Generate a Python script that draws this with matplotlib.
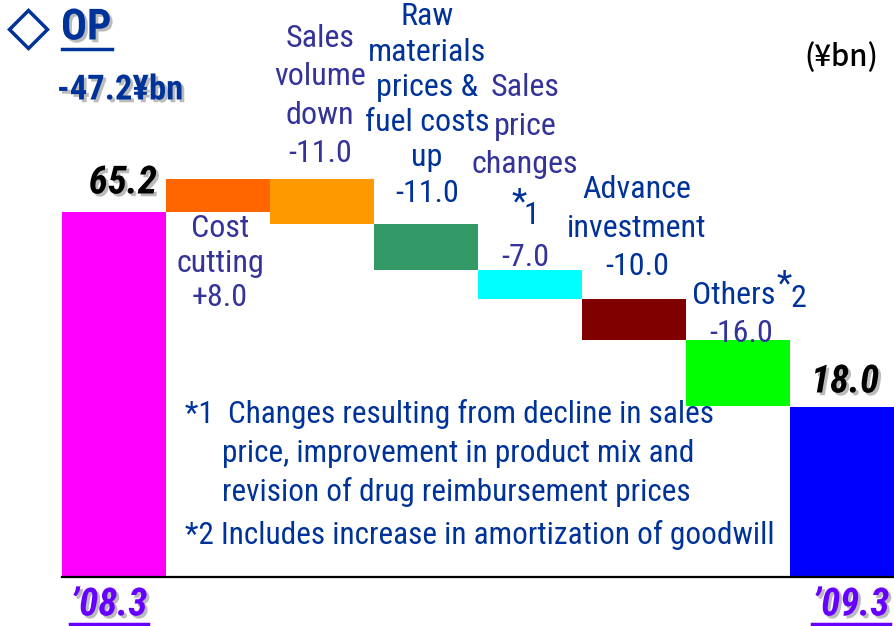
import numpy as np
import matplotlib
matplotlib.use("Agg")
import matplotlib.pyplot as plt
import matplotlib.patheffects as pe
from matplotlib.lines import Line2D
from matplotlib import font_manager

# values (yen bn)
op_start = 65.2
op_end = 18.0
period_labels = ["\u201908.3", "\u201909.3"]
step_names = ["Cost\ncutting", "Sales\nvolume\ndown", "Raw\nmaterials\nprices &\nfuel costs\nup",
              "Sales\nprice\nchanges", "Advance\ninvestment", "Others"]
step_values = [8.0, -11.0, -11.0, -7.0, -10.0, -16.0]
total_change = -47.2

bar_colors = ["#ff00ff", "#ff6600", "#ff9900", "#339966", "#00ffff",
              "#800000", "#00ff00", "#0000ff"]


# pick a narrow font if one is installed
def pick_font(cands):
    for c in cands:
        try:
            font_manager.findfont(font_manager.FontProperties(family=c), fallback_to_default=False)
            return c
        except Exception:
            pass
    return "DejaVu Sans"


narrow = pick_font(["Liberation Sans Narrow", "DejaVu Sans Condensed", "Roboto Condensed",
                    "Open Sans Condensed", "Liberation Sans"])
is_narrow = narrow != "Liberation Sans"
plt.rcParams['font.family'] = [narrow, 'DejaVu Sans']
k = 1.0 if is_narrow else 0.85

W, H = 894, 626
fig = plt.figure(figsize=(W / 100, H / 100), dpi=100)


def fx(x):
    return x / W


def fy(y):
    return 1 - y / H


# axes: bars are contiguous, baseline at pixel 577
ax = fig.add_axes([fx(62), fy(577), (W - 62) / W, 577 / H])
px_per_unit = 4.13
ymin = op_start - (577 - 212) / px_per_unit
ymax = ymin + 577 / px_per_unit
ax.set_ylim(ymin, ymax)
ax.set_xlim(-0.5, 7.5)

# waterfall
levels = np.concatenate([[op_start], op_start + np.cumsum(step_values)])
bottoms = [ymin] + list(np.minimum(levels[:-1], levels[1:])) + [ymin]
heights = [op_start - ymin] + [abs(v) for v in step_values] + [op_end - ymin]
ax.bar(np.arange(8), heights, bottom=bottoms, width=1.0, color=bar_colors,
       linewidth=0)

for s in ["top", "right", "left"]:
    ax.spines[s].set_visible(False)
ax.spines["bottom"].set_linewidth(1.6)
ax.set_xticks([])
ax.set_yticks([])
ax.patch.set_alpha(0)

navy = "#333399"
blue = "#003399"
shadow = [pe.SimplePatchShadow(offset=(2, -2), shadow_rgbFace="#aaaaaa", alpha=0.8), pe.Normal()]

# step labels: x, y centre, colour, line spacing
lab_fs = 23 * k
label_pos = [(220, 263, navy, 1.25), (320, 96, navy, 1.42), (427, 105, blue, 1.27),
             (525, 126, navy, 1.4), (637, 228, blue, 1.42), (733, 296, blue, 1.2)]
for i, (name, v) in enumerate(zip(step_names, step_values)):
    x, y, c, ls = label_pos[i]
    vtxt = f"{v:+.1f}"
    if i == 3:
        fig.text(fx(x), fy(y), name, ha="center", va="center", color=c,
                 fontsize=lab_fs, linespacing=ls)
        fig.text(fx(519), fy(203), "*", ha="center", va="center", color=blue,
                 fontsize=lab_fs * 1.1)
        fig.text(fx(531), fy(216), "1", ha="center", va="center", color=blue, fontsize=lab_fs)
        fig.text(fx(525), fy(258), vtxt, ha="center", va="center", color=c, fontsize=lab_fs)
    elif i == 5:
        fig.text(fx(692), fy(y), name, ha="left", va="center", color=c, fontsize=lab_fs)
        fig.text(fx(784), fy(285), "*", ha="center", va="center", color=c,
                 fontsize=lab_fs * 1.1)
        fig.text(fx(798), fy(298), "2", ha="center", va="center", color=c, fontsize=lab_fs)
        fig.text(fx(741), fy(333), vtxt, ha="center", va="center", color=navy, fontsize=lab_fs)
    else:
        fig.text(fx(x), fy(y), name + "\n" + vtxt, ha="center", va="center", color=c,
                 fontsize=lab_fs, linespacing=ls)

# start / end values
fig.text(fx(157), fy(183), f"{op_start:.1f}", ha="right", va="center", fontsize=28 * k,
         fontweight="bold", fontstyle="italic", color="black", path_effects=shadow)
fig.text(fx(845), fy(382), f"{op_end:.1f}", ha="center", va="center", fontsize=28 * k,
         fontweight="bold", fontstyle="italic", color="black", path_effects=shadow)

# period labels
purple = "#6600ff"
for (x, x0, x1), lab in zip([(109, 70, 148), (851, 812, 890)], period_labels):
    fig.text(fx(x), fy(605), lab, ha="center", va="center", fontsize=28 * k,
             fontweight="bold", fontstyle="italic", color=purple, path_effects=shadow)
    fig.add_artist(Line2D([fx(x0), fx(x1)], [fy(624), fy(624)], color=purple, lw=2.5))

# title
fig.add_artist(Line2D([fx(28)], [fy(29)], marker="D", markersize=19, markerfacecolor="none",
                      markeredgecolor=blue, markeredgewidth=2.5))
fig.text(fx(61), fy(28), "OP", ha="left", va="center", fontsize=31 * k, fontweight="bold",
         color=blue, path_effects=shadow)
fig.add_artist(Line2D([fx(62), fx(112)], [fy(49), fy(49)], color=blue, lw=2.5))
fig.text(fx(57), fy(90), f"{total_change:.1f}\u00a5bn", ha="left", va="center",
         fontsize=25 * k, fontweight="bold", color=blue, path_effects=shadow)
fig.text(fx(878), fy(58), "(\u00a5bn)", ha="right", va="center", fontsize=21,
         color="black", family=["Noto Sans CJK JP", "DejaVu Sans"], fontweight="medium")

# footnotes
note_fs = 22.5 * k
fig.text(fx(185), fy(414), "*1  Changes resulting from decline in sales", ha="left", va="center",
         fontsize=note_fs, color=blue)
fig.text(fx(222), fy(454), "price, improvement in product mix and", ha="left", va="center",
         fontsize=note_fs, color=blue)
fig.text(fx(222), fy(492), "revision of drug reimbursement prices", ha="left", va="center",
         fontsize=note_fs, color=blue)
fig.text(fx(185), fy(535), "*2 Includes increase in amortization of goodwill", ha="left",
         va="center", fontsize=note_fs, color=blue)

fig.savefig("out.png", dpi=100)
